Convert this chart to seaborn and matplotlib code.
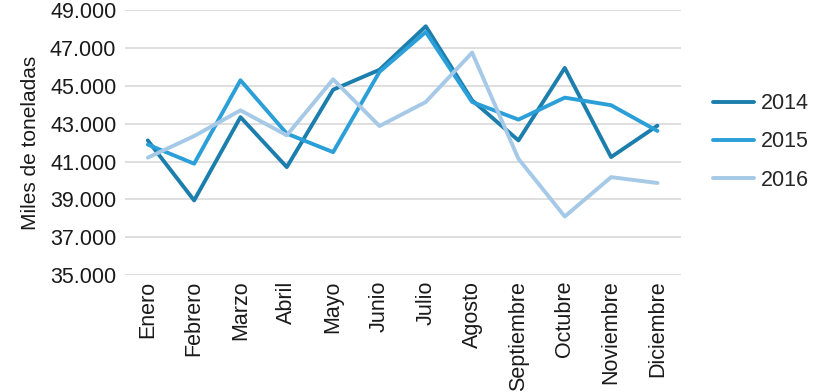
import matplotlib
matplotlib.use("Agg")
import matplotlib.pyplot as plt
import matplotlib.ticker as mticker
import pandas as pd
import seaborn as sns

meses = ["Enero", "Febrero", "Marzo", "Abril", "Mayo", "Junio", "Julio",
         "Agosto", "Septiembre", "Octubre", "Noviembre", "Diciembre"]
years = ["2014", "2015", "2016"]
v2014 = [42120, 38950, 43350, 40710, 44800, 45850, 48150, 44240, 42120, 45950, 41240, 42900]
v2015 = [41900, 40890, 45300, 42480, 41500, 45740, 47850, 44150, 43220, 44380, 43980, 42620]
v2016 = [41210, 42350, 43710, 42390, 45350, 42880, 44150, 46760, 41150, 38100, 40180, 39870]
yticks = list(range(35000, 49001, 2000))
colors = ["#1b7eac", "#2b9fd8", "#a5c9e6"]

df = pd.DataFrame({
    "mes": meses * 3,
    "valor": v2014 + v2015 + v2016,
    "year": [y for y in years for _ in meses],
})

sns.set_theme(style="white")
plt.rcParams["font.family"] = ["Liberation Sans", "DejaVu Sans"]

fig = plt.figure(figsize=(8.2, 3.92), dpi=100)
ax = fig.add_axes([0.152, 0.298, 0.678, 0.676])

sns.lineplot(data=df, x="mes", y="valor", hue="year", palette=colors,
             linewidth=2.8, sort=False, ax=ax)

ax.set_ylim(35000, 49000)
ax.set_xlim(-0.5, 11.5)
ax.set_yticks(yticks)
ax.yaxis.set_major_formatter(mticker.FuncFormatter(lambda v, p: f"{v:,.0f}".replace(",", ".")))
ax.grid(axis="y", color="#d9d9d9", linewidth=1.2)
ax.set_axisbelow(True)
for s in ax.spines.values():
    s.set_visible(False)
ax.tick_params(axis="both", length=0, labelsize=15.5, colors="#1a1a1a")
ax.tick_params(axis="y", pad=6)
ax.tick_params(axis="x", pad=4)
plt.setp(ax.get_xticklabels(), rotation=90)
ax.set_xlabel("")
ax.set_ylabel("Miles de toneladas", fontsize=15, color="#1a1a1a", labelpad=7)

ax.legend(title=None, frameon=False, loc="center left", bbox_to_anchor=(1.024, 0.503),
          fontsize=15.5, handlelength=1.9, handletextpad=0.3, labelspacing=0.8)

fig.savefig("out.png", dpi=100)
